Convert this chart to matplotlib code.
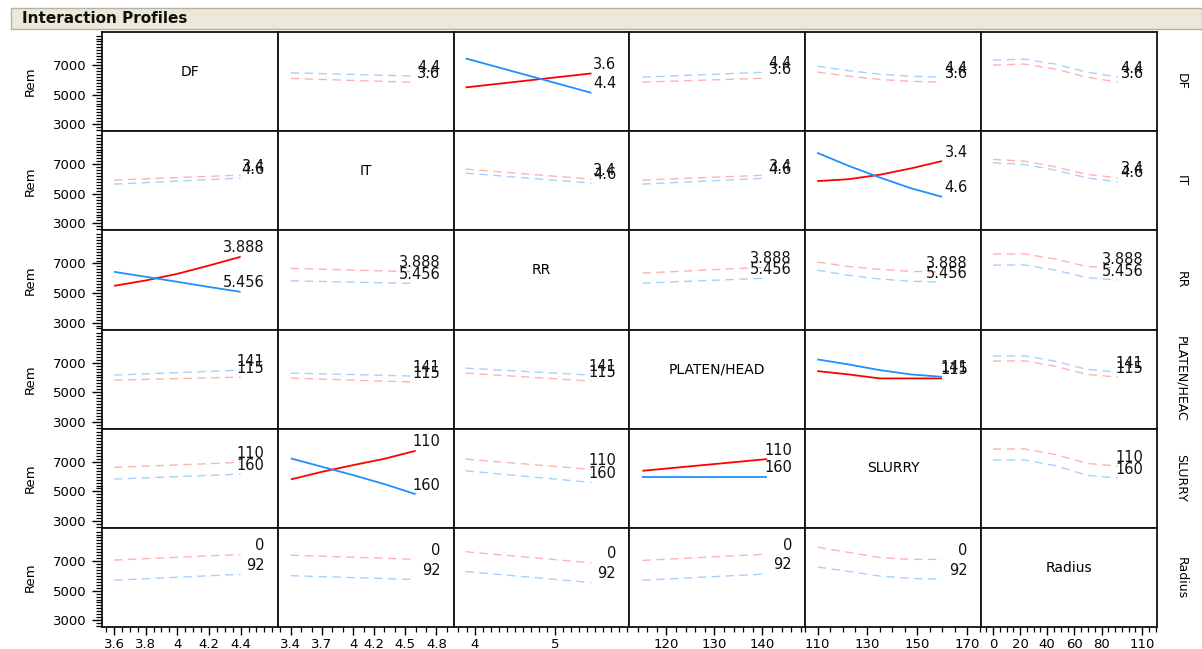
import matplotlib
matplotlib.use("Agg")
import matplotlib.pyplot as plt
from matplotlib.patches import Rectangle
import numpy as np

plt.rcParams["font.family"] = ["DejaVu Sans"]

# ---- factors and their levels -------------------------------------------
factors = ["DF", "IT", "RR", "PLATEN/HEAD", "SLURRY", "Radius"]
side_labels = ["DF", "IT", "RR", "PLATEN/HEAC", "SLURRY", "Radius"]
low_levels = ["3.6", "3.4", "3.888", "115", "110", "0"]
high_levels = ["4.4", "4.6", "5.456", "141", "160", "92"]
x_low = [3.6, 3.4, 3.888, 115, 110, 0]
x_high = [4.4, 4.6, 5.456, 141, 160, 92]

# ---- axis settings -------------------------------------------------------
x_limits = [(3.524, 4.635), (3.275, 4.965), (3.739, 5.929),
            (112.3, 148.9), (105.2, 175.6), (-8.8, 120.7)]
x_tick_values = [[3.6, 3.8, 4, 4.2, 4.4],
                 [3.4, 3.7, 4, 4.2, 4.5, 4.8],
                 [4, 5],
                 [120, 130, 140],
                 [110, 130, 150, 170],
                 [0, 20, 40, 60, 80, 110]]
x_tick_labels = [["3.6", "3.8", "4", "4.2", "4.4"],
                 ["3.4", "3.7", "4", "4.2", "4.5", "4.8"],
                 ["4", "5"],
                 ["120", "130", "140"],
                 ["110", "130", "150", "170"],
                 ["0", "20", "40", "60", "80", "110"]]
x_minor_ranges = [(3.55, 4.6, 0.05), (3.3, 4.9, 0.1), (3.8, 5.9, 0.1),
                  (114, 148, 2), (105, 175, 5), (-5, 120, 5)]
y_tick_values = [3000, 5000, 7000]
y_limits = (2525, 9240)

# ---- predicted Rem profiles (5 points across each x-factor range) --------
# row factor at its low level (red) / high level (blue); None on the diagonal
DF_low = [None,
          [6098, 6030, 5960, 5895, 5827],
          [5488, 5725, 5962, 6200, 6437],
          [5847, 5915, 5983, 6051, 6119],
          [6525, 6250, 6030, 5900, 5847],
          [7000, 7068, 6729, 6186, 5847]]
DF_high = [None,
           [6478, 6420, 6365, 6310, 6254],
           [7454, 6871, 6288, 5705, 5122],
           [6186, 6271, 6356, 6440, 6525],
           [6932, 6620, 6390, 6240, 6186],
           [7339, 7407, 7068, 6525, 6186]]
IT_low = [[5929, 6014, 6099, 6183, 6268],
          None,
          [6675, 6505, 6336, 6166, 5997],
          [5929, 6014, 6099, 6183, 6268],
          [5861, 5990, 6290, 6720, 7217],
          [7332, 7217, 6831, 6315, 6085]]
IT_high = [[5658, 5760, 5861, 5963, 6064],
           None,
           [6403, 6233, 6064, 5894, 5725],
           [5658, 5760, 5861, 5963, 6064],
           [7780, 6900, 6110, 5380, 4797],
           [7102, 6993, 6607, 6085, 5814]]
RR_low = [[5488, 5850, 6300, 6860, 7454],
          [6668, 6610, 6550, 6495, 6437],
          None,
          [6349, 6451, 6553, 6654, 6756],
          [7095, 6800, 6600, 6470, 6417],
          [7637, 7650, 7300, 6800, 6688]]
RR_high = [[6437, 6100, 5760, 5410, 5081],
           [5827, 5780, 5740, 5695, 5650],
           None,
           [5671, 5756, 5841, 5925, 6010],
           [6553, 6200, 5950, 5800, 5740],
           [6892, 6900, 6550, 6050, 5875]]
PLATEN_low = [[5820, 5871, 5922, 5973, 6024],
              [5956, 5888, 5820, 5753, 5685],
              [6295, 6160, 6024, 5888, 5753],
              None,
              [6431, 6207, 5936, 5936, 5936],
              [7108, 7130, 6760, 6210, 6024]]
PLATEN_high = [[6159, 6244, 6329, 6413, 6498],
               [6295, 6244, 6193, 6143, 6092],
               [6634, 6515, 6397, 6278, 6159],
               None,
               [7224, 6885, 6498, 6207, 6044],
               [7447, 7470, 7100, 6550, 6363]]
SLURRY_low = [[6627, 6712, 6797, 6881, 6966],
              [5814, 6329, 6783, 7210, 7753],
              [7190, 7016, 6841, 6667, 6492],
              [6397, 6595, 6794, 6992, 7190],
              None,
              [7868, 7880, 7500, 6900, 6715]]
SLURRY_high = [[5834, 5919, 6004, 6088, 6173],
               [7237, 6668, 6105, 5495, 4817],
               [6397, 6200, 6004, 5807, 5610],
               [5990, 5990, 5990, 5990, 5990],
               None,
               [7122, 7130, 6750, 6100, 5902]]
Radius_low = [[7070, 7164, 7259, 7353, 7447],
              [7400, 7330, 7259, 7189, 7118],
              [7635, 7447, 7259, 7070, 6882],
              [7047, 7153, 7259, 7364, 7470],
              [7941, 7588, 7235, 7118, 7118],
              None]
Radius_high = [[5706, 5806, 5906, 6006, 6106],
               [6012, 5947, 5883, 5818, 5753],
               [6294, 6106, 5918, 5729, 5541],
               [5706, 5812, 5918, 6023, 6129],
               [6600, 6294, 5988, 5824, 5776],
               None]

rem_low = [DF_low, IT_low, RR_low, PLATEN_low, SLURRY_low, Radius_low]
rem_high = [DF_high, IT_high, RR_high, PLATEN_high, SLURRY_high, Radius_high]

# cells with a strong interaction are drawn with solid lines
solid_cells = {(0, 2), (1, 4), (2, 0), (3, 4), (4, 1), (4, 3)}

# ---- figure ----------------------------------------------------------------
W, H = 1202, 649
fig = plt.figure(figsize=(W / 100, H / 100), dpi=100)
fig.patch.set_facecolor("white")

# title bar
fig.patches.append(Rectangle((11 / W, 1 - 29 / H), (W - 11) / W, 21 / H,
                             transform=fig.transFigure, facecolor="#ECE9D8",
                             edgecolor="#B5B2A3", linewidth=1.0))
fig.text(22 / W, 1 - 18.5 / H, "Interaction Profiles", fontsize=11,
         fontweight="bold", va="center", ha="left", color="#111111")

grid_left, grid_top = 102, 32
cell_w, cell_h = 175.8, 99.2

RED, BLUE = "#FF0000", "#1E90FF"
PALE_RED, PALE_BLUE = "#FFB2B2", "#A8D0FF"

for r in range(6):
    row_center = grid_top + cell_h * (r + 0.5)
    fig.text(30 / W, 1 - row_center / H, "Rem", rotation=90, fontsize=9.5,
             ha="center", va="center")
    fig.text(1181 / W, 1 - row_center / H, side_labels[r], rotation=-90,
             fontsize=9, ha="center", va="center")
    for c in range(6):
        left = grid_left + cell_w * c
        top = grid_top + cell_h * r
        ax = fig.add_axes([left / W, 1 - (top + cell_h) / H, cell_w / W, cell_h / H])
        ax.set_xlim(*x_limits[c])
        ax.set_ylim(*y_limits)
        for sp in ax.spines.values():
            sp.set_linewidth(1.3)
            sp.set_color("#111111")

        if r == c:
            ax.text(0.5, 0.6, factors[r], ha="center", va="center",
                    fontsize=10, transform=ax.transAxes)
        else:
            xs = np.linspace(x_low[c], x_high[c], 5)
            lo = rem_low[r][c]
            hi = rem_high[r][c]
            if (r, c) in solid_cells:
                ax.plot(xs, lo, color=RED, lw=1.3, solid_capstyle="butt")
                ax.plot(xs, hi, color=BLUE, lw=1.3, solid_capstyle="butt")
            else:
                ax.plot(xs, lo, color=PALE_RED, lw=1.0, dashes=(6, 4))
                ax.plot(xs, hi, color=PALE_BLUE, lw=1.0, dashes=(6, 4))
            for val, lab in ((lo[-1], low_levels[r]), (hi[-1], high_levels[r])):
                ax.annotate(lab, xy=(0.925, val), xycoords=("axes fraction", "data"),
                            xytext=(0, 6.5), textcoords="offset points",
                            ha="right", va="center", fontsize=10.5,
                            color="#111111")

        # ticks only on the outer left column and bottom row
        if c == 0:
            ax.set_yticks(y_tick_values)
            ax.set_yticklabels([str(v) for v in y_tick_values], fontsize=9.5)
            ax.set_yticks(np.arange(2600, 9001, 200), minor=True)
            ax.tick_params(axis="y", which="major", length=7, width=1.0, pad=4)
            ax.tick_params(axis="y", which="minor", length=4, width=0.9)
        else:
            ax.set_yticks([])
            ax.set_yticks([], minor=True)
        if r == 5:
            ax.set_xticks(x_tick_values[c])
            ax.set_xticklabels(x_tick_labels[c], fontsize=9.5)
            a, b, s = x_minor_ranges[c]
            ax.set_xticks(np.arange(a, b + s / 2, s), minor=True)
            ax.tick_params(axis="x", which="major", length=6, width=1.0, pad=1.5)
            ax.tick_params(axis="x", which="minor", length=3.5, width=0.9)
        else:
            ax.set_xticks([])
            ax.set_xticks([], minor=True)

fig.savefig("out.png", dpi=100, facecolor="white")
